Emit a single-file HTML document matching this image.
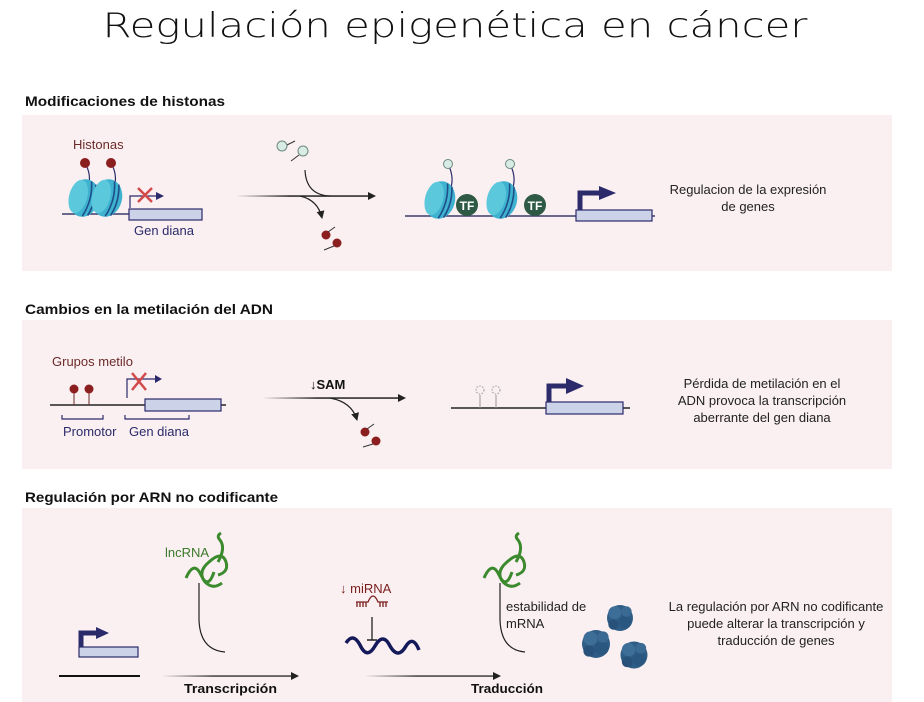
<!DOCTYPE html>
<html><head><meta charset="utf-8"><style>
html,body{margin:0;padding:0;background:#fff;}
svg{display:block;font-family:"Liberation Sans",sans-serif;}
</style></head><body>
<svg width="924" height="702" viewBox="0 0 924 702" xmlns="http://www.w3.org/2000/svg">
<defs>
<marker id="ar" markerWidth="8" markerHeight="8" refX="7" refY="4" orient="auto" markerUnits="userSpaceOnUse"><path d="M0,0 L8,4 L0,8z" fill="#222"/></marker>
<marker id="arb" markerWidth="8" markerHeight="8" refX="6" refY="4" orient="auto" markerUnits="userSpaceOnUse"><path d="M0,0 L8,4 L0,8z" fill="#2b2a6b"/></marker>
<linearGradient id="fade" x1="0" x2="1" y1="0" y2="0"><stop offset="0" stop-color="#222" stop-opacity="0"/><stop offset="0.4" stop-color="#222"/></linearGradient>
<g id="nuc">
<ellipse cx="0" cy="0" rx="15" ry="19" fill="#3fb2cf"/>
<ellipse cx="-6" cy="0" rx="9" ry="17" fill="#5cc8dc"/>
<path d="M3,-18 Q9,0 3,18 M8,-16 Q13,0 8,16" stroke="#1e4f8a" stroke-width="1.6" fill="none"/>
</g>
<g id="prot"><circle cx="0" cy="0" r="10" fill="#2f5d86"/><circle cx="-4" cy="-4" r="5" fill="#3d6e98"/><circle cx="4" cy="3" r="5" fill="#2a5780"/><circle cx="5" cy="-5" r="4" fill="#3a6a94"/><circle cx="-5" cy="5" r="4" fill="#28527a"/></g>
</defs>

<text x="455" y="37" font-size="34" text-anchor="middle" fill="#111" font-family="'DejaVu Sans',sans-serif" font-weight="300" textLength="705" lengthAdjust="spacingAndGlyphs">Regulación epigenética en cáncer</text>

<!-- Section 1 -->
<text x="25" y="106" font-size="14" font-weight="bold" fill="#111" textLength="200" lengthAdjust="spacingAndGlyphs">Modificaciones de histonas</text>
<rect x="22" y="115" width="870" height="156" fill="#fbf0f1"/>
<text x="73" y="149" font-size="13" fill="#6b2a2a">Histonas</text>
<line x1="62" y1="214" x2="200" y2="214" stroke="#3a3a6a" stroke-width="1.5"/>
<path d="M85,163 Q92,175 88,188 M111,163 Q118,175 114,188" stroke="#2b2a6b" stroke-width="1.2" fill="none"/>
<circle cx="85" cy="163" r="5" fill="#8b1e1e"/><circle cx="111" cy="163" r="5" fill="#8b1e1e"/>
<use href="#nuc" transform="translate(84,198) rotate(15)"/>
<use href="#nuc" transform="translate(107,198) rotate(15)"/>
<rect x="129" y="209" width="73" height="11" fill="#ccd3e8" stroke="#2b2a6b" stroke-width="1.2"/>
<path d="M130,208 V196 H162" stroke="#2b2a6b" stroke-width="1.2" fill="none" marker-end="url(#arb)"/>
<path d="M138,188 L152,202 M152,188 L138,202" stroke="#d24a4a" stroke-width="2.5"/>
<text x="134" y="235" font-size="13" fill="#2b2a6b">Gen diana</text>
<rect x="236" y="195.3" width="134" height="1.5" fill="url(#fade)"/>
<path d="M368,192 L376,196 L368,200z" fill="#222"/>
<path d="M305,170 Q306,195 330,196" stroke="#222" stroke-width="1.2" fill="none"/>
<path d="M300,196 Q318,200 322,218" stroke="#222" stroke-width="1.2" fill="none" marker-end="url(#ar)"/>
<circle cx="282" cy="146" r="5" fill="#d8ebe4" stroke="#6a8a80"/><line x1="287" y1="145" x2="295" y2="141" stroke="#333"/>
<circle cx="303" cy="151" r="5" fill="#d8ebe4" stroke="#6a8a80"/><line x1="299" y1="155" x2="291" y2="161" stroke="#333"/>
<circle cx="326" cy="235" r="4.5" fill="#8b1e1e"/><line x1="328" y1="232" x2="335" y2="227" stroke="#333"/>
<circle cx="337" cy="243" r="4.5" fill="#8b1e1e"/><line x1="334" y1="246" x2="324" y2="250" stroke="#333"/>

<line x1="405" y1="216" x2="655" y2="216" stroke="#3a3a6a" stroke-width="1.5"/>
<path d="M448,164 Q455,178 450,190 M510,164 Q517,178 512,190" stroke="#2b2a6b" stroke-width="1.2" fill="none"/>
<circle cx="448" cy="164" r="4.5" fill="#d8ebe4" stroke="#6a8a80"/><circle cx="510" cy="164" r="4.5" fill="#d8ebe4" stroke="#6a8a80"/>
<use href="#nuc" transform="translate(440,200) rotate(15)"/>
<use href="#nuc" transform="translate(502,200) rotate(15)"/>
<circle cx="467" cy="205" r="11" fill="#2e5a45"/><text x="467" y="210" font-size="12" font-weight="bold" fill="#fff" text-anchor="middle">TF</text>
<circle cx="535" cy="205" r="11" fill="#2e5a45"/><text x="535" y="210" font-size="12" font-weight="bold" fill="#fff" text-anchor="middle">TF</text>
<rect x="576" y="210" width="76" height="11" fill="#ccd3e8" stroke="#2b2a6b" stroke-width="1.2"/>
<path d="M580,210 V193 H600" stroke="#2b2a6b" stroke-width="5" fill="none"/>
<path d="M599,186 L616,193 L599,200z" fill="#2b2a6b"/>
<text x="748" y="194" font-size="13" fill="#222" text-anchor="middle">Regulacion de la expresión</text>
<text x="748" y="211" font-size="13" fill="#222" text-anchor="middle">de genes</text>

<!-- Section 2 -->
<text x="25" y="314" font-size="14" font-weight="bold" fill="#111" textLength="248" lengthAdjust="spacingAndGlyphs">Cambios en la metilación del ADN</text>
<rect x="22" y="320" width="870" height="149" fill="#fbf0f1"/>
<text x="52" y="366" font-size="13" fill="#6b2a2a">Grupos metilo</text>
<line x1="50" y1="405" x2="226" y2="405" stroke="#222" stroke-width="1.5"/>
<line x1="74" y1="392" x2="74" y2="405" stroke="#6b2a2a"/><line x1="89" y1="392" x2="89" y2="405" stroke="#6b2a2a"/>
<circle cx="74" cy="389" r="4.5" fill="#8b1e1e"/><circle cx="89" cy="389" r="4.5" fill="#8b1e1e"/>
<rect x="145" y="399" width="76" height="12" fill="#ccd3e8" stroke="#2b2a6b" stroke-width="1.2"/>
<path d="M127,398 V385 V379 H157" stroke="#2b2a6b" stroke-width="1.2" fill="none"/>
<path d="M155,375 L162,379 L155,383z" fill="#2b2a6b"/>
<path d="M132,373 L146,390 M146,373 L132,390" stroke="#d24a4a" stroke-width="2.5"/>
<path d="M62,415 V419 H103 V415 M125,415 V419 H189 V415" stroke="#2b2a6b" stroke-width="1.2" fill="none"/>
<text x="63" y="436" font-size="13" fill="#2b2a6b">Promotor</text>
<text x="129" y="436" font-size="13" fill="#2b2a6b">Gen diana</text>
<text x="310" y="389" font-size="13" font-weight="bold" fill="#111">↓SAM</text>
<rect x="262" y="397.3" width="138" height="1.5" fill="url(#fade)"/>
<path d="M398,394 L406,398 L398,402z" fill="#222"/>
<path d="M330,398 Q352,402 357,420" stroke="#222" stroke-width="1.2" fill="none" marker-end="url(#ar)"/>
<circle cx="365" cy="432" r="4.5" fill="#8b1e1e"/><line x1="367" y1="429" x2="374" y2="424" stroke="#333"/>
<circle cx="376" cy="441" r="4.5" fill="#8b1e1e"/><line x1="373" y1="444" x2="363" y2="447" stroke="#333"/>
<line x1="451" y1="408" x2="630" y2="408" stroke="#222" stroke-width="1.5"/>
<line x1="480" y1="395" x2="480" y2="408" stroke="#999"/><line x1="496" y1="395" x2="496" y2="408" stroke="#999"/>
<circle cx="480" cy="390" r="4" fill="none" stroke="#999" stroke-dasharray="1.5,1.5"/><circle cx="496" cy="390" r="4" fill="none" stroke="#999" stroke-dasharray="1.5,1.5"/>
<rect x="546" y="402" width="77" height="12" fill="#ccd3e8" stroke="#2b2a6b" stroke-width="1.2"/>
<path d="M549,402 V386 H567" stroke="#2b2a6b" stroke-width="5" fill="none"/>
<path d="M566,378 L584,386 L566,394z" fill="#2b2a6b"/>
<text x="762" y="388" font-size="13" fill="#222" text-anchor="middle">Pérdida de metilación en el</text>
<text x="762" y="405" font-size="13" fill="#222" text-anchor="middle">ADN provoca la transcripción</text>
<text x="762" y="422" font-size="13" fill="#222" text-anchor="middle">aberrante del gen diana</text>

<!-- Section 3 -->
<text x="25" y="502" font-size="14" font-weight="bold" fill="#111" textLength="253" lengthAdjust="spacingAndGlyphs">Regulación por ARN no codificante</text>
<rect x="22" y="508" width="870" height="194" fill="#fbf0f1"/>
<line x1="59" y1="676" x2="140" y2="676" stroke="#111" stroke-width="2"/>
<rect x="79" y="647" width="59" height="10" fill="#ccd3e8" stroke="#2b2a6b" stroke-width="1.2"/>
<path d="M81,647 V633 H97" stroke="#2b2a6b" stroke-width="5" fill="none"/>
<path d="M96,627 L109,633 L96,639z" fill="#2b2a6b"/>
<rect x="161" y="675.4" width="132" height="1.3" fill="url(#fade)"/>
<path d="M291,672 L299,676 L291,680z" fill="#222"/>
<text x="184" y="693" font-size="13" font-weight="bold" fill="#111" textLength="93" lengthAdjust="spacingAndGlyphs">Transcripción</text>
<text x="165" y="557" font-size="13" fill="#3a7a2a">lncRNA</text>
<path d="M222,583 Q213,590 205,582 Q197,572 209,562 Q222,550 226,562 Q229,572 218,575 M214,572 Q208,590 201,575 Q194,560 186,578 M218,562 Q226,548 220,540 Q216,536 221,533" stroke="#3c8a2e" stroke-width="3" fill="none"/>
<path d="M199,583 V620 Q200,650 225,652" stroke="#222" stroke-width="1.2" fill="none"/>
<text x="340" y="593" font-size="13" fill="#7a1e1e">↓ miRNA</text>
<path d="M356,602 H368 Q373,590 378,602 H388 M357,602 V607 M360,602 V607 M363,602 V607 M366,602 V607 M380,602 V607 M383,602 V607 M386,602 V607" stroke="#7a1e1e" stroke-width="1.3" fill="none"/>
<line x1="372" y1="617" x2="372" y2="640" stroke="#222" stroke-width="1.3"/>
<line x1="367" y1="640" x2="377" y2="640" stroke="#222" stroke-width="1.5"/>
<path d="M346,643 Q353,632 360,645 Q367,660 375,646 Q383,632 390,646 Q398,660 406,646 Q413,635 419,650" stroke="#14195a" stroke-width="3.5" fill="none"/>
<rect x="364" y="675.4" width="132" height="1.3" fill="url(#fade)"/>
<path d="M493,672 L501,676 L493,680z" fill="#222"/>
<text x="471" y="693" font-size="13" font-weight="bold" fill="#111" textLength="72" lengthAdjust="spacingAndGlyphs">Traducción</text>
<path d="M522,583 Q513,590 505,582 Q497,572 509,562 Q522,550 526,562 Q529,572 518,575 M514,572 Q508,590 501,575 Q494,560 486,578 M518,562 Q526,548 520,540 Q516,536 521,533" stroke="#3c8a2e" stroke-width="3" fill="none" transform="translate(-2,0)"/>
<path d="M500,583 V620 Q501,650 525,652" stroke="#222" stroke-width="1.2" fill="none"/>
<text x="506" y="611" font-size="13" fill="#222">estabilidad de</text>
<text x="506" y="628" font-size="13" fill="#222">mRNA</text>
<use href="#prot" transform="translate(620,618) scale(1.3)"/>
<use href="#prot" transform="translate(596,644) scale(1.4)"/>
<use href="#prot" transform="translate(634,655) scale(1.35)"/>
<text x="776" y="611" font-size="13" fill="#222" text-anchor="middle">La regulación por ARN no codificante</text>
<text x="776" y="628" font-size="13" fill="#222" text-anchor="middle">puede alterar la transcripción y</text>
<text x="776" y="645" font-size="13" fill="#222" text-anchor="middle">traducción de genes</text>
</svg>
</body></html>
